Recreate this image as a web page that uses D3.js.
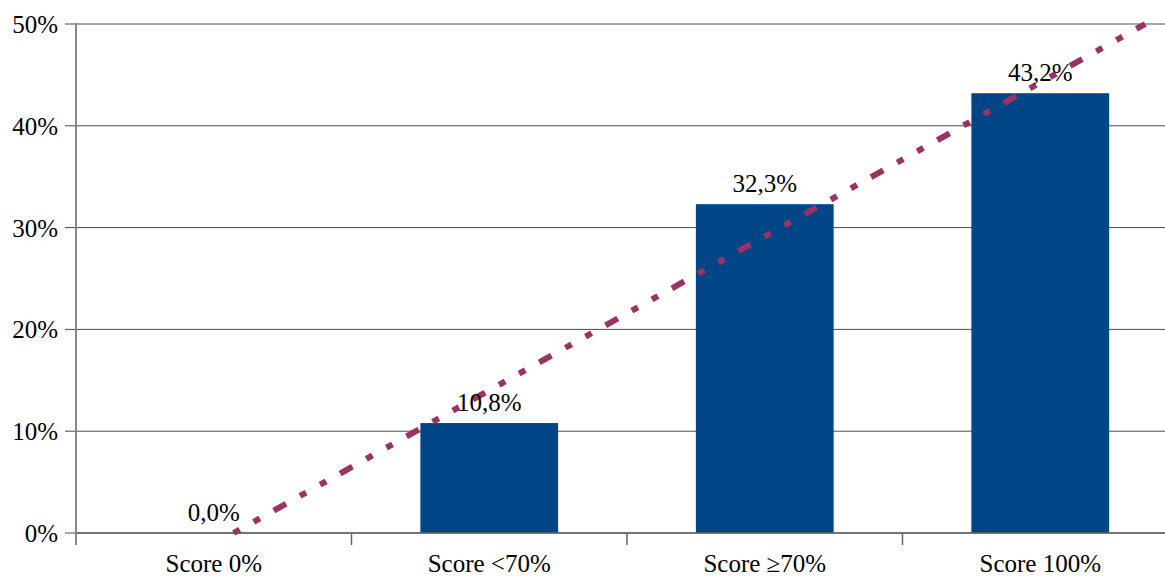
<!DOCTYPE html>
<html><head><meta charset="utf-8">
<script src="https://cdn.jsdelivr.net/npm/d3@7"></script>
<style>body{margin:0;background:#fff}svg{display:block}</style>
</head><body><svg id="c" width="1165" height="577" font-family="'Liberation Serif', 'DejaVu Serif', serif"></svg>
<script>
const categories = ["Score 0%", "Score <70%", "Score \u226570%", "Score 100%"];
const values = [0.0, 10.8, 32.3, 43.2];
const valueLabels = ["0,0%", "10,8%", "32,3%", "43,2%"];
const yTicks = [0, 10, 20, 30, 40, 50];

(function(){
const svg = d3.select("#c");
const FS = 25;
const pL = 76, pR = 1178, pT = 24, pB = 533;
const x = d3.scaleBand().domain(categories).range([pL, pR]).paddingInner(0.5).paddingOuter(0.25);
const y = d3.scaleLinear().domain([0, 50]).range([pB, pT]);

svg.append("g").selectAll("line").data(yTicks).join("line")
  .attr("x1", pL - 11).attr("x2", 1165)
  .attr("y1", d => y(d)).attr("y2", d => y(d))
  .attr("stroke", "#4a4a4a").attr("stroke-width", 1);

svg.append("g").selectAll("text").data(yTicks).join("text")
  .attr("x", 58).attr("y", d => y(d) + 9)
  .attr("text-anchor", "end").attr("font-size", FS).attr("fill", "#000")
  .text(d => d + "%");

svg.append("g").selectAll("rect").data(values).join("rect")
  .attr("x", (d, i) => x(categories[i]))
  .attr("width", x.bandwidth())
  .attr("y", d => y(d)).attr("height", d => pB - y(d))
  .attr("fill", "#004586");

const step = x.step();
const bandStarts = categories.map((c, i) => pL + i * (pR - pL) / categories.length);
svg.append("line").attr("x1", pL).attr("x2", 1165).attr("y1", pB).attr("y2", pB)
  .attr("stroke", "#666").attr("stroke-width", 1.5);
svg.append("line").attr("x1", pL).attr("x2", pL).attr("y1", pT - 1).attr("y2", pB + 12)
  .attr("stroke", "#888").attr("stroke-width", 2);
svg.append("g").selectAll("line").data(bandStarts.slice(1)).join("line")
  .attr("x1", d => d).attr("x2", d => d).attr("y1", pB).attr("y2", pB + 12)
  .attr("stroke", "#666").attr("stroke-width", 1.5);

svg.append("g").selectAll("text").data(categories).join("text")
  .attr("x", d => x(d) + x.bandwidth() / 2).attr("y", 572)
  .attr("text-anchor", "middle").attr("font-size", FS).attr("fill", "#000")
  .text(d => d);

// linear trend line (least squares over category index)
const xs = values.map((d, i) => i + 1);
const mx = d3.mean(xs), my = d3.mean(values);
const slope = d3.sum(xs.map((xi, i) => (xi - mx) * (values[i] - my))) / d3.sum(xs.map(xi => (xi - mx) ** 2));
const icpt = my - slope * mx;
const idxToPx = k => x(categories[0]) + x.bandwidth() / 2 + (k - 1) * step;
const k0 = (0 - icpt) / slope, k1 = (50 - icpt) / slope;
svg.append("line")
  .attr("x1", idxToPx(k0)).attr("y1", y(0))
  .attr("x2", idxToPx(k1)).attr("y2", y(50))
  .attr("stroke", "#993366").attr("stroke-width", 6)
  .attr("stroke-dasharray", "7,16,7,16,14,16");

svg.append("g").selectAll("text").data(values).join("text")
  .attr("x", (d, i) => x(categories[i]) + x.bandwidth() / 2)
  .attr("y", d => y(d) - 12)
  .attr("text-anchor", "middle").attr("font-size", FS).attr("fill", "#000")
  .text((d, i) => valueLabels[i]);
})();
</script></body></html>
